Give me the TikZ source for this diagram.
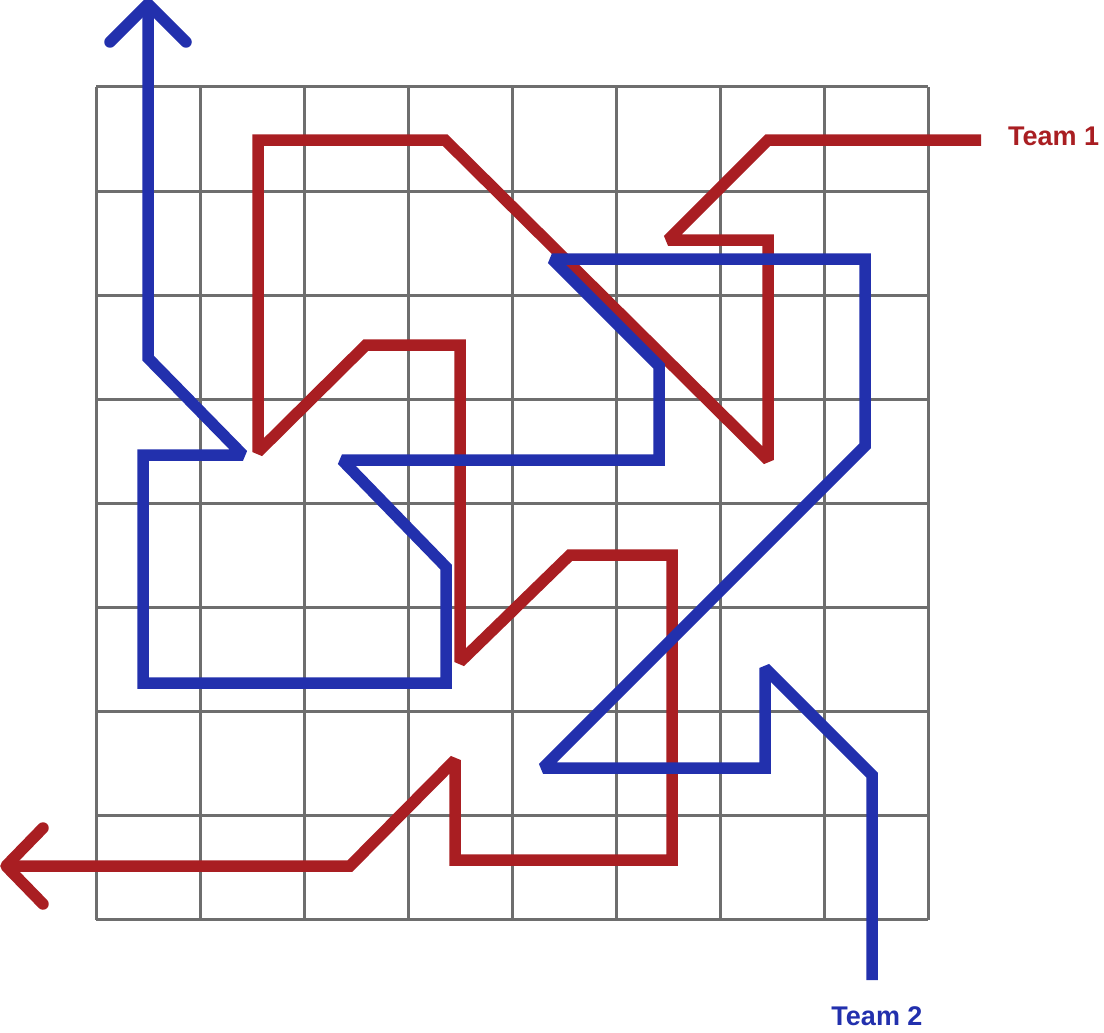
\documentclass[tikz,border=0pt]{standalone}
\usepackage{fontspec}
\setmainfont{Liberation Sans}
\definecolor{teamred}{HTML}{A91E22}
\definecolor{teamblue}{HTML}{2230AD}
\definecolor{gridgray}{HTML}{6E6E6E}
\begin{document}
\begin{tikzpicture}[x=1pt,y=-1pt,
  gridline/.style={draw=gridgray,line width=3pt},
  route/.style={line width=11.5pt,line join=miter,miter limit=2,line cap=butt},
  chevron/.style={line width=11.5pt,line join=round,line cap=round},
  teamlabel/.style={font=\bfseries\fontsize{27}{31}\selectfont,inner sep=0pt}]
\useasboundingbox (0,0) rectangle (1104,1033);
% grid
\foreach \i in {0,...,8}{
  \draw[gridline] ({96+104*\i},87) -- ({96+104*\i},920);
  \draw[gridline] (96,{87+104.1*\i}) -- (928,{87+104.1*\i});
}
% Team 1 route
\coordinate (r0) at (981,140);
\coordinate (rtip) at (6,866);
\draw[route,teamred] (r0) -- (768,140) -- (668,240) -- (768,240) -- (768,460)
  -- (445,140) -- (258,140) -- (258,452) -- (366,345) -- (460,345) -- (460,662)
  -- (570,555) -- (672,555) -- (672,860) -- (455,860) -- (455,760) -- (350,866)
  -- (rtip);
\draw[chevron,teamred] (43,828) -- (rtip) -- (43,904);
% Team 2 route
\coordinate (b0) at (872,980);
\coordinate (btip) at (148,4);
\draw[route,teamblue] (b0) -- (872,775) -- (765,668) -- (765,768) -- (543,768)
  -- (865,446) -- (865,259) -- (552,259) -- (659,366) -- (659,460) -- (342,460)
  -- (446,567) -- (446,683) -- (143,683) -- (143,455) -- (243,455) -- (148,358)
  -- (btip);
\draw[chevron,teamblue] (110,42) -- (btip) -- (186,42);
% labels
\node[teamlabel,text=teamred,anchor=west] (t1) at (1008,136) {Team 1};
\node[teamlabel,text=teamblue] (t2) at (877,1016) {Team 2};
\end{tikzpicture}
\end{document}
